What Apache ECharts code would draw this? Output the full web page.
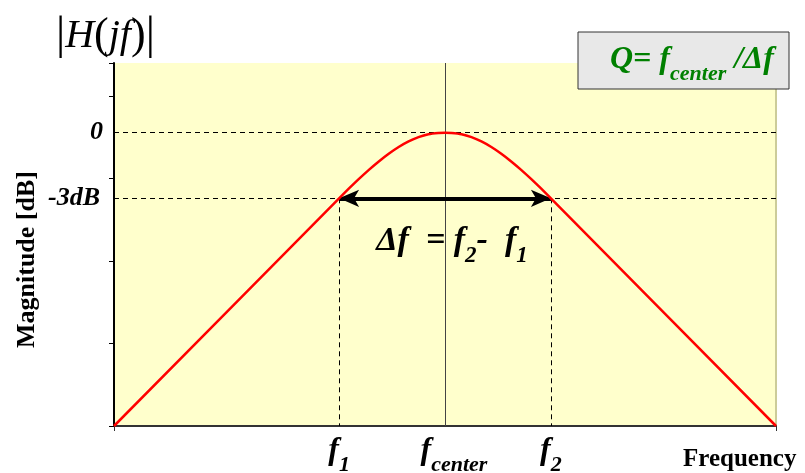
<!DOCTYPE html>
<html>
<head>
<meta charset="utf-8">
<script src="https://cdn.jsdelivr.net/npm/echarts@6/dist/echarts.min.js"></script>
<style>
  html, body { margin: 0; padding: 0; background: #fff; }
  #chart { width: 805px; height: 473px; }
</style>
</head>
<body>
<div id="chart"></div>
<script>
// curve (arbitrary units, x: 0..100, y: 0..44)
var freq = [0, 34, 35.5, 37, 38.5, 40, 41.5, 43, 44.5, 46, 47.5, 49, 50, 51, 52.5, 54, 55.5, 57, 58.5, 60, 61.5, 63, 64.5, 66, 100]
var mag = [0, 27.6, 28.8, 29.95, 31.05, 32.07, 33.0, 33.82, 34.5, 35.02, 35.37, 35.52, 35.55, 35.52, 35.37, 35.02, 34.5, 33.82, 33.0, 32.07, 31.05, 29.95, 28.8, 27.6, 0]

// reference positions
var F1 = 34
var FC = 50
var F2 = 66
var ZERO_DB = 35.65
var M3_DB = 27.6
var Y_MAX = 44

var serif = 'Liberation Serif'
var chart = echarts.init(document.getElementById('chart'))

// italic bold with a dropped subscript
function subRich (size, subSize, color) {
  return {
    f: { fontFamily: serif, fontSize: size, fontWeight: 'bold', fontStyle: 'italic', color: color, fill: color, lineHeight: size + 2, verticalAlign: 'top' },
    s: { fontFamily: serif, fontSize: subSize, fontWeight: 'bold', fontStyle: 'italic', color: color, fill: color, lineHeight: size + 9, verticalAlign: 'bottom' }
  }
}
var fRich = subRich(32, 22, '#000')
var hLabel = { fontFamily: serif, fontSize: 26, fontWeight: 'bold', fontStyle: 'italic', color: '#000' }
var dash = { type: [5, 4], color: '#000', width: 1 }

chart.setOption({
  animation: false,
  backgroundColor: '#fff',
  title: {
    text: '{b||}{h|H}{p|(}{h|jf}{p|)}{b||}',
    left: 51,
    top: 8,
    textStyle: {
      fontWeight: 'normal',
      rich: {
        b: { fontFamily: serif, fontSize: 46, fontWeight: 'normal', color: '#000' },
        p: { fontFamily: serif, fontSize: 44, fontWeight: 'normal', color: '#000' },
        h: { fontFamily: serif, fontSize: 40, fontWeight: 'normal', fontStyle: 'italic', color: '#000' }
      }
    }
  },
  grid: {
    left: 114,
    right: 29,
    top: 63,
    bottom: 47,
    show: true,
    backgroundColor: '#ffffcc',
    borderWidth: 0
  },
  xAxis: {
    type: 'value',
    min: 0,
    max: 100,
    interval: 100,
    name: 'Frequency',
    nameLocation: 'end',
    nameGap: -93,
    nameTextStyle: { fontFamily: serif, fontSize: 25, fontWeight: 'bold', color: '#000', verticalAlign: 'top', padding: [21, 0, 0, 0] },
    axisLine: { lineStyle: { color: '#333', width: 2 } },
    axisTick: { show: true, length: 5, lineStyle: { color: '#333' } },
    axisLabel: { show: false },
    splitLine: { show: false }
  },
  yAxis: [{
    type: 'value',
    min: 0,
    max: Y_MAX,
    interval: 10,
    name: 'Magnitude [dB]',
    nameLocation: 'middle',
    nameRotate: 90,
    nameGap: 74,
    nameTextStyle: { fontFamily: serif, fontSize: 26, fontWeight: 'bold', color: '#000', padding: [0, 30, 0, 0] },
    axisLine: { show: true, lineStyle: { color: '#000', width: 2 } },
    axisTick: { show: true, length: 5, lineStyle: { color: '#000' } },
    axisLabel: { show: false },
    splitLine: { show: false }
  }, {
    type: 'value',
    position: 'right',
    min: 0,
    max: Y_MAX,
    axisLine: { show: true, lineStyle: { color: '#cccc99', width: 2 } },
    axisTick: { show: false },
    axisLabel: { show: false },
    splitLine: { show: false }
  }],
  graphic: [{
    type: 'rect',
    shape: { x: 578, y: 32, width: 211, height: 57 },
    style: { fill: '#e8e8e8', stroke: '#333', lineWidth: 1 },
    z: 100
  }, {
    type: 'text',
    x: 610,
    y: 44,
    z: 101,
    style: {
      text: '{f|Q= f}{s|center}{f| /Δf}',
      fill: '#008000',
      rich: subRich(32, 22, '#008000')
    }
  }],
  series: [{
    type: 'line',
    data: freq.map(function (f, i) { return [f, mag[i]] }),
    showSymbol: false,
    smooth: 0.2,
    lineStyle: { color: '#ff0000', width: 2.5 },
    z: 5,
    markLine: {
      silent: true,
      animation: false,
      symbol: ['none', 'none'],
      label: { show: false },
      data: [
        { yAxis: ZERO_DB, lineStyle: dash, label: Object.assign({ show: true, position: 'start', distance: 11, formatter: '0' }, hLabel) },
        { yAxis: M3_DB, lineStyle: dash, label: Object.assign({ show: true, position: 'start', distance: 14, formatter: '-3dB' }, hLabel) },
        [
          { coord: [F1, M3_DB], lineStyle: dash, label: { show: true, position: 'end', distance: 9, formatter: '{f|f}{s|1}', rich: fRich } },
          { coord: [F1, 0] }
        ],
        [
          { coord: [F2, M3_DB], lineStyle: dash, label: { show: true, position: 'end', distance: 9, formatter: '{f|f}{s|2}', rich: fRich } },
          { coord: [F2, 0] }
        ],
        [
          { coord: [FC, Y_MAX], lineStyle: { type: 'solid', color: '#444', width: 1 }, label: { show: true, position: 'end', distance: 9, padding: [0, 0, 0, 18], formatter: '{f|f}{s|center}', rich: fRich } },
          { coord: [FC, 0] }
        ],
        [
          { coord: [F1, M3_DB], symbol: 'arrow', symbolSize: [13, 20], lineStyle: { type: 'solid', color: '#000', width: 4 },
            label: { show: true, position: 'insideMiddleBottom', distance: 26, padding: [0, 0, 0, 14], formatter: '{f|Δf  = f}{s|2}{f|-  f}{s|1}', rich: subRich(34, 23, '#000') } },
          { coord: [F2, M3_DB], symbol: 'arrow', symbolSize: [13, 20] }
        ]
      ]
    }
  }]
})
</script>
</body>
</html>
